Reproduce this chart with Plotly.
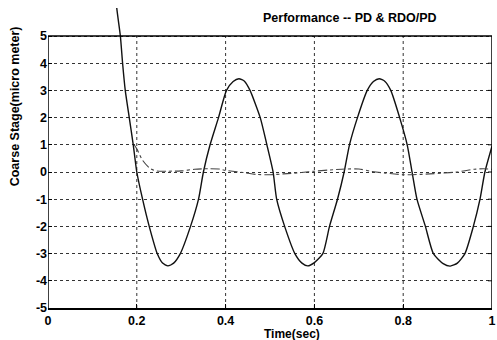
import plotly.graph_objects as go

# ---- data ----
t_pd = [0.150, 0.1547, 0.163, 0.168, 0.174, 0.183, 0.192, 0.200, 0.213, 0.228, 0.246,
        0.258, 0.270, 0.283, 0.298, 0.321, 0.339, 0.350, 0.365, 0.384, 0.402,
        0.417, 0.430, 0.443, 0.455, 0.478, 0.493, 0.507, 0.515, 0.533, 0.556,
        0.572, 0.585, 0.600, 0.619, 0.634, 0.652, 0.667, 0.679, 0.697, 0.719,
        0.733, 0.746, 0.759, 0.772, 0.792, 0.809, 0.820, 0.831, 0.850, 0.868,
        0.890, 0.906, 0.922, 0.939, 0.958, 0.973, 0.984, 1.000]
y_pd = [7.2, 6.05, 5.0, 4.0, 3.0, 2.0, 1.0, 0.0, -1.0, -2.0, -3.0,
        -3.35, -3.45, -3.35, -3.0, -2.0, -1.0, 0.0, 1.0, 2.0, 3.0,
        3.33, 3.43, 3.33, 3.0, 2.0, 1.0, 0.0, -1.0, -2.0, -3.0,
        -3.35, -3.45, -3.33, -3.0, -2.0, -1.0, 0.0, 1.0, 2.0, 3.0,
        3.33, 3.43, 3.33, 3.0, 2.0, 1.0, 0.0, -1.0, -2.0, -3.0,
        -3.37, -3.46, -3.35, -3.0, -2.0, -1.0, 0.0, 0.95]

t_rdo = [0.194, 0.200, 0.213, 0.231, 0.245, 0.270, 0.300, 0.330, 0.360, 0.385,
         0.400, 0.440, 0.470, 0.500, 0.530, 0.570, 0.600, 0.630, 0.670, 0.700,
         0.730, 0.760, 0.800, 0.820, 0.860, 0.890, 0.920, 0.960, 0.980, 1.000]
y_rdo = [1.0, 0.85, 0.43, 0.12, 0.04, 0.03, 0.04, 0.10, 0.12, 0.11,
         0.06, -0.02, -0.09, -0.10, -0.07, -0.02, 0.03, 0.07, 0.11, 0.11,
         0.02, -0.04, -0.10, -0.10, -0.07, -0.04, 0.00, 0.10, 0.12, 0.10]

x_ticks = [0, 0.2, 0.4, 0.6, 0.8, 1]
x_tick_text = ["0", "0.2", "0.4", "0.6", "0.8", "1"]
y_ticks = [-5, -4, -3, -2, -1, 0, 1, 2, 3, 4, 5]
y_tick_text = ["-5", "-4", "-3", "-2", "-1", "0", "1", "2", "3", "4", "5"]

title_text = "Performance -- PD & RDO/PD"
x_title = "Time(sec)"
y_title = "Coarse Stage(micro meter)"

FONT = "Liberation Sans, Arial, Helvetica, sans-serif"
X_MIN, X_MAX = 0, 1
Y_MIN, Y_MAX = -5, 5
Y_TOP = 5 + 28 / 27.2  # room above the box so the curve can leave it

fig = go.Figure()
fig.add_trace(go.Scatter(x=t_pd, y=y_pd, mode="lines",
                         line=dict(color="#111111", width=1.4, shape="spline", smoothing=0.6),
                         showlegend=False))
fig.add_trace(go.Scatter(x=t_rdo, y=y_rdo, mode="lines",
                         line=dict(color="#444444", width=1.1, dash="dashdot", shape="spline", smoothing=0.8),
                         showlegend=False))

shapes = []
for xv in x_ticks[1:-1]:
    shapes.append(dict(type="line", xref="x", yref="y", x0=xv, x1=xv, y0=Y_MIN, y1=Y_MAX,
                       line=dict(color="#333333", width=1, dash="dot"), layer="below"))
shapes.append(dict(type="line", xref="x", yref="y", x0=X_MIN, x1=X_MIN, y0=Y_MIN, y1=Y_MAX,
                   line=dict(color="black", width=1.5)))
shapes.append(dict(type="line", xref="x", yref="y", x0=X_MIN, x1=X_MAX, y0=Y_MAX, y1=Y_MAX,
                   line=dict(color="black", width=1.5)))
shapes.append(dict(type="line", xref="x", yref="y", x0=X_MAX, x1=X_MAX, y0=Y_MIN, y1=Y_MAX,
                   line=dict(color="black", width=1.5)))
for yv in y_ticks[1:-1]:
    shapes.append(dict(type="line", xref="x", yref="y", x0=X_MAX - 0.009, x1=X_MAX, y0=yv, y1=yv,
                       line=dict(color="black", width=1)))

fig.update_layout(
    width=497, height=340,
    margin=dict(l=48, r=1, t=8, b=32),
    paper_bgcolor="white", plot_bgcolor="white",
    shapes=shapes,
    font=dict(family=FONT, color="black"),
    xaxis=dict(range=[X_MIN, X_MAX], tickvals=x_ticks, ticktext=x_tick_text,
               showgrid=False, zeroline=False, showline=True, linecolor="black", linewidth=1.5,
               ticks="inside", ticklen=4, tickcolor="black", ticklabeloverflow="allow",
               tickfont=dict(family=FONT, size=12.5, weight="bold", color="black")),
    yaxis=dict(range=[Y_MIN, Y_TOP], tickvals=y_ticks, ticktext=y_tick_text,
               showgrid=True, gridcolor="#333333", griddash="dot", gridwidth=1,
               zeroline=False, showline=False,
               ticks="inside", ticklen=4, tickcolor="black",
               tickfont=dict(family=FONT, size=12.5, weight="bold", color="black")),
    annotations=[
        dict(text=title_text, xref="paper", yref="paper", x=(353 - 48) / 448, y=(308 - 18) / 300,
             showarrow=False, xanchor="center", yanchor="middle",
             font=dict(family=FONT, size=12.5, weight="bold", color="black")),
        dict(text=x_title, xref="paper", yref="paper", x=(294.5 - 48) / 448, y=(308 - 334) / 300,
             showarrow=False, xanchor="center", yanchor="middle",
             font=dict(family=FONT, size=12, weight="bold", color="black")),
        dict(text=y_title, xref="paper", yref="paper", x=(15 - 48) / 448, y=(308 - 106) / 300,
             showarrow=False, xanchor="center", yanchor="middle", textangle=-90,
             font=dict(family=FONT, size=12.5, weight="bold", color="black")),
    ],
)

fig.write_html("out.html", config={"displayModeBar": False, "staticPlot": True},
               post_script="document.body.style.margin='0';document.body.style.padding='0';document.body.style.overflow='hidden';")
